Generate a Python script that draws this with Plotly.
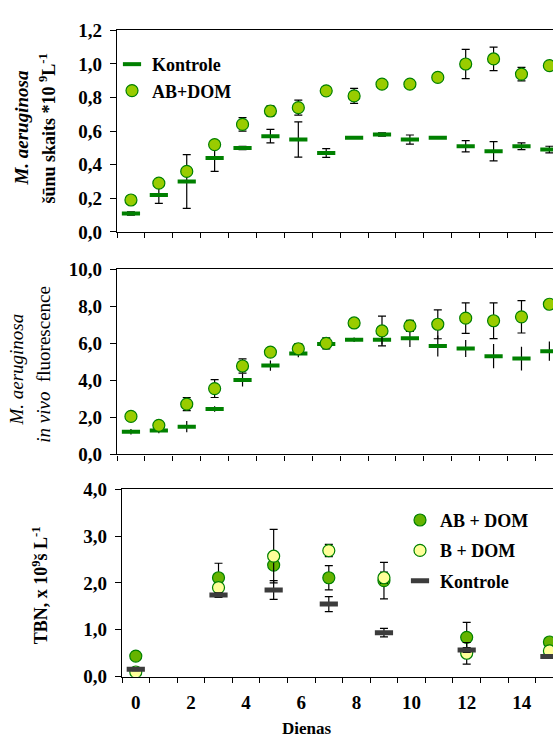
import plotly.graph_objects as go

W, H = 553, 747

# ---- data -------------------------------------------------------------
days = list(range(16))

# M. aeruginosa cell numbers, *10^9 L^-1
cells_kontrole = [0.11, 0.22, 0.30, 0.44, 0.50, 0.57, 0.55, 0.47,
                  0.56, 0.58, 0.55, 0.56, 0.51, 0.48, 0.51, 0.49]
cells_kontrole_err = [0.01, 0.05, 0.16, 0.08, 0.01, 0.04, 0.105, 0.026,
                      0.0, 0.01, 0.027, 0.0, 0.033, 0.057, 0.02, 0.02]
cells_ab_dom = [0.19, 0.29, 0.36, 0.52, 0.64, 0.72, 0.74, 0.84,
                0.81, 0.88, 0.88, 0.92, 1.00, 1.03, 0.94, 0.99]
cells_ab_dom_err = [0.01, 0.02, 0.01, 0.01, 0.04, 0.03, 0.045, 0.01,
                    0.045, 0.01, 0.01, 0.01, 0.087, 0.07, 0.04, 0.01]

# M. aeruginosa in vivo fluorescence
fl_kontrole = [1.22, 1.29, 1.50, 2.45, 4.02, 4.79, 5.44, 5.95,
               6.18, 6.18, 6.27, 5.85, 5.71, 5.30, 5.17, 5.57]
fl_kontrole_err = [0.15, 0.15, 0.30, 0.15, 0.35, 0.28, 0.20, 0.10,
                   0.12, 0.25, 0.48, 0.57, 0.46, 0.65, 0.64, 0.52]
fl_ab_dom = [2.05, 1.57, 2.71, 3.55, 4.77, 5.52, 5.70, 5.99,
             7.09, 6.66, 6.93, 7.02, 7.35, 7.21, 7.42, 8.10]
fl_ab_dom_err = [0.20, 0.20, 0.35, 0.48, 0.38, 0.10, 0.28, 0.30,
                 0.15, 0.80, 0.30, 0.78, 0.82, 0.96, 0.87, 0.10]

# Total bacterial numbers, 10^9 L^-1
tbn_days = [0, 3, 5, 7, 9, 12, 15]
tbn_ab_dom = [0.44, 2.11, 2.38, 2.11, 2.05, 0.84, 0.74]
tbn_ab_dom_err = [0.08, 0.31, 0.06, 0.26, 0.39, 0.32, 0.05]
tbn_b_dom = [0.10, 1.90, 2.57, 2.69, 2.11, 0.50, 0.55]
tbn_b_dom_err = [0.03, 0.05, 0.57, 0.13, 0.12, 0.23, 0.05]
tbn_kontrole = [0.16, 1.74, 1.85, 1.55, 0.94, 0.57, 0.43]
tbn_kontrole_err = [0.03, 0.05, 0.20, 0.16, 0.09, 0.05, 0.03]

x_tick_labels = [0, 2, 4, 6, 8, 10, 12, 14]
half_days = [d - 0.5 for d in range(16)]

# ---- styling ----------------------------------------------------------
SERIF = "Liberation Serif"
GREEN = "#008000"
LIME = "#99cc00"
DARK_LIME = "#66b300"
PALE = "#ffff99"
GREY = "#3c3c3c"


def px_x(p):
    return p / W


def px_y(p):
    return 1 - p / H


def err(vals, width=4, visible=True):
    return dict(type="data", array=vals, color="black", thickness=1.2,
                width=width, visible=visible)


fig = go.Figure()

# top panel: cell numbers
fig.add_trace(go.Scatter(
    x=days, y=cells_kontrole, mode="markers", name="Kontrole",
    marker=dict(symbol="line-ew", size=13, line=dict(color=GREEN, width=4)),
    error_y=err(cells_kontrole_err), xaxis="x", yaxis="y",
    legend="legend", legendgroup="k1"))
fig.add_trace(go.Scatter(
    x=days, y=cells_ab_dom, mode="markers", name="AB+DOM",
    marker=dict(symbol="circle", size=12, color=LIME,
                line=dict(color=GREEN, width=1.2)),
    error_y=err(cells_ab_dom_err), xaxis="x", yaxis="y",
    legend="legend", legendgroup="a1"))

# middle panel: fluorescence
fig.add_trace(go.Scatter(
    x=days, y=fl_kontrole, mode="markers", name="Kontrole", showlegend=False,
    marker=dict(symbol="line-ew", size=13, line=dict(color=GREEN, width=4)),
    error_y=err(fl_kontrole_err, width=0), xaxis="x2", yaxis="y2"))
fig.add_trace(go.Scatter(
    x=days, y=fl_ab_dom, mode="markers", name="AB+DOM", showlegend=False,
    marker=dict(symbol="circle", size=12, color=LIME,
                line=dict(color=GREEN, width=1.2)),
    error_y=err(fl_ab_dom_err), xaxis="x2", yaxis="y2"))

# bottom panel: bacteria
fig.add_trace(go.Scatter(
    x=tbn_days, y=tbn_ab_dom, mode="markers", name="AB + DOM",
    marker=dict(symbol="circle", size=12, color=DARK_LIME,
                line=dict(color=GREEN, width=1.2)),
    error_y=err(tbn_ab_dom_err), xaxis="x3", yaxis="y3",
    legend="legend2", legendgroup="a3"))
fig.add_trace(go.Scatter(
    x=tbn_days, y=tbn_b_dom, mode="markers", name="B + DOM",
    marker=dict(symbol="circle", size=12, color=PALE,
                line=dict(color=GREEN, width=1.2)),
    error_y=err(tbn_b_dom_err), xaxis="x3", yaxis="y3",
    legend="legend2", legendgroup="b3"))
fig.add_trace(go.Scatter(
    x=tbn_days, y=tbn_kontrole, mode="markers", name="Kontrole",
    marker=dict(symbol="line-ew", size=13, line=dict(color=GREY, width=5)),
    error_y=err(tbn_kontrole_err), xaxis="x3", yaxis="y3",
    legend="legend2", legendgroup="k3"))

tick_font = dict(family=SERIF, size=19, color="black", weight="bold")

xcommon = dict(range=[-0.5, 15.13], showgrid=False, zeroline=False,
               showline=True, linecolor="black", linewidth=1.3, mirror=True,
               fixedrange=True)

fig.update_layout(
    width=W, height=H, margin=dict(l=0, r=0, t=0, b=0),
    paper_bgcolor="white", plot_bgcolor="white",
    separators=", ",
    font=dict(family=SERIF, color="black"),
    xaxis=dict(**xcommon, domain=[px_x(117), 1.0], anchor="y",
               tickmode="array", tickvals=half_days, ticks="outside",
               ticklen=5, tickcolor="black", showticklabels=False),
    xaxis2=dict(**xcommon, domain=[px_x(117), 1.0], anchor="y2",
                tickmode="array", tickvals=half_days, ticks="outside",
                ticklen=5, tickcolor="black", showticklabels=False),
    xaxis3=dict(**xcommon, domain=[px_x(122), 1.0], anchor="y3",
                tickmode="array", tickvals=x_tick_labels, ticks="",
                tickfont=tick_font, ticklabelstandoff=8,
                minor=dict(tickmode="array", tickvals=half_days,
                           ticks="outside", ticklen=5, tickcolor="black")),
    yaxis=dict(domain=[px_y(228.3), px_y(21)], range=[0, 1.2], dtick=0.2,
               tick0=0, tickformat=".1f", anchor="x"),
    yaxis2=dict(domain=[px_y(457.3), px_y(266.5)], range=[0, 10], dtick=2,
                tick0=0, tickformat=".1f", anchor="x2"),
    yaxis3=dict(domain=[px_y(686), px_y(493)], range=[0, 4], dtick=1,
                tick0=0, tickformat=".1f", anchor="x3"),
    legend=dict(x=px_x(112), y=px_y(37), xanchor="left", yanchor="top",
                bgcolor="rgba(0,0,0,0)", tracegroupgap=0,
                font=dict(family=SERIF, size=18, color="black",
                          weight="bold")),
    legend2=dict(x=px_x(400), y=px_y(506), xanchor="left", yanchor="top",
                 bgcolor="rgba(0,0,0,0)", tracegroupgap=4,
                 font=dict(family=SERIF, size=18, color="black",
                           weight="bold")),
)

for ax in ("yaxis", "yaxis2", "yaxis3"):
    fig.layout[ax].update(showgrid=False, zeroline=False, showline=True,
                          linecolor="black", linewidth=1.3, ticks="outside",
                          ticklen=6, tickcolor="black", tickfont=tick_font,
                          ticklabelstandoff=4, fixedrange=True)

# axis titles
def vtitle(text, x, y, size=19):
    fig.add_annotation(text=text, xref="paper", yref="paper",
                       x=px_x(x), y=px_y(y), xanchor="center",
                       yanchor="middle", textangle=-90, showarrow=False,
                       font=dict(family=SERIF, size=size, color="black"))

vtitle("<b><i>M. aeruginosa</i></b>", 22, 121)
vtitle("<b>šūnu skaits *10 <sup>9</sup>L<sup>-1</sup></b>", 48, 122, 18)
vtitle("<i>M. aeruginosa</i>", 17, 370)
vtitle("<i>in vivo</i>  fluorescence", 44, 365)
vtitle("<b>TBN, x 10<sup>9</sup>š L<sup>-1</sup></b>", 40, 592, 18)

fig.add_annotation(text="<b>Dienas</b>", xref="paper", yref="paper",
                   x=px_x(307), y=px_y(739), xanchor="center",
                   yanchor="middle", showarrow=False,
                   font=dict(family=SERIF, size=17, color="black"))

fig.write_html("out.html")
